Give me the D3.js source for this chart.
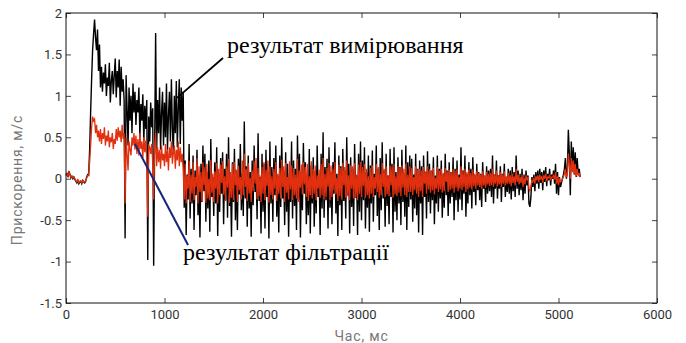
<!DOCTYPE html>
<html>
<head>
<meta charset="utf-8">
<script src="https://cdn.jsdelivr.net/npm/d3@7"></script>
<style>
  body { margin: 0; background: #fff; }
  .tick text { font-family: Roboto, "DejaVu Sans", sans-serif; font-size: 13px; fill: #333; }
  .note { font-family: "Liberation Serif", "Times New Roman", serif; font-size: 24px; fill: #000; }
  .axis-title { font-family: Roboto, sans-serif; font-size: 14px; fill: #777; }
</style>
</head>
<body>
<div id="chart"></div>
<script>
// sampling period of both records, ms
var stepMs = 10;

// measured acceleration (black), one value per 10 ms from 0 ms
var measured = [
  0.04,0.06,0.02,0.09,0.05,0.01,0.03,0.00,0.02,-0.01,
  -0.03,-0.05,-0.02,-0.06,-0.04,-0.03,-0.06,-0.02,-0.04,-0.05,
  -0.03,0.02,0.05,0.04,0.35,0.80,1.20,1.55,1.75,1.92,
  1.70,1.55,1.80,1.30,1.62,1.10,1.35,1.05,1.28,1.15,
  1.38,1.00,1.22,1.12,1.40,0.92,1.18,1.30,1.02,1.25,
  1.45,0.98,1.30,1.10,1.44,0.88,1.35,1.05,1.20,0.95,
  -0.72,1.25,0.85,0.40,1.10,0.70,1.00,0.55,1.15,0.80,
  1.05,0.65,0.95,0.80,1.10,0.50,0.90,0.70,1.02,0.45,
  0.88,0.60,0.95,-0.98,0.75,0.45,0.92,0.62,0.85,-1.05,
  0.40,1.76,0.30,0.95,0.55,1.10,0.35,0.80,1.05,0.40,
  0.92,0.50,1.15,0.35,0.75,1.05,0.45,1.20,0.60,0.30,
  1.00,0.55,1.18,0.38,0.85,1.20,0.42,1.10,0.70,1.05,
  -0.35,0.22,-0.68,0.05,-0.25,0.42,-0.48,0.12,-0.30,0.28,
  -0.62,0.10,-0.20,0.35,-0.44,-0.05,-0.71,0.18,-0.28,0.40,
  -0.15,0.30,-0.52,0.08,-0.36,0.22,-0.64,0.48,-0.22,0.02,
  -0.45,0.20,-0.30,0.38,-0.69,0.05,-0.40,0.25,-0.18,0.32,
  -0.55,0.12,-0.26,0.30,-0.47,0.50,-0.33,-0.02,-0.70,0.20,
  -0.28,0.36,-0.50,0.10,-0.62,0.24,-0.19,0.42,-0.38,0.06,
  -0.45,0.69,-0.24,0.15,-0.58,0.28,-0.36,0.08,-0.70,0.22,
  -0.32,0.40,-0.16,0.12,-0.49,0.55,-0.27,0.02,-0.66,0.30,
  -0.40,0.18,-0.60,0.35,-0.22,0.08,-0.72,0.45,-0.30,0.14,
  -0.52,0.25,-0.20,0.40,-0.46,0.04,-0.65,0.28,-0.34,0.50,
  -0.24,0.10,-0.56,0.32,-0.40,0.18,-0.70,0.06,-0.28,0.45,
  -0.48,0.22,-0.33,0.12,-0.62,0.52,-0.25,0.30,-0.71,0.08,
  -0.38,0.43,-0.18,0.20,-0.55,0.05,-0.44,0.36,-0.66,0.16,
  -0.30,0.26,-0.58,0.10,-0.42,0.40,-0.22,0.02,-0.68,0.30,
  -0.36,0.56,-0.47,0.14,-0.26,0.24,-0.60,0.38,-0.35,0.08,
  -0.55,0.20,-0.18,0.44,-0.42,0.06,-0.69,0.28,-0.32,0.15,
  -0.62,0.36,-0.27,0.10,-0.48,0.50,-0.20,0.18,-0.66,0.26,
  -0.34,0.12,-0.57,0.42,-0.23,0.04,-0.68,0.30,-0.40,0.45,
  -0.50,0.22,-0.26,0.38,-0.60,0.08,-0.35,0.28,-0.64,0.16,
  -0.30,0.34,-0.52,0.06,-0.20,0.40,-0.45,0.12,-0.62,0.25,
  -0.38,0.44,-0.24,0.10,-0.58,0.30,-0.33,0.04,-0.55,0.36,
  -0.22,0.18,-0.65,0.38,-0.40,0.08,-0.50,0.26,-0.30,0.14,
  -0.56,0.35,-0.28,0.06,-0.46,0.40,-0.62,0.20,-0.34,0.28,
  -0.25,0.24,-0.52,0.05,-0.36,0.30,-0.44,0.12,-0.65,0.22,
  -0.30,0.15,-0.68,0.28,-0.22,0.08,-0.48,0.33,-0.28,0.18,
  -0.42,0.10,-0.26,0.26,-0.55,0.04,-0.30,0.28,-0.40,0.12,
  -0.24,0.22,-0.47,0.05,-0.35,0.30,-0.20,0.10,-0.45,0.20,
  -0.30,0.08,-0.22,0.26,-0.50,0.12,-0.26,0.22,-0.40,0.05,
  -0.25,0.38,-0.38,0.10,-0.18,0.28,-0.46,0.06,-0.30,0.20,
  -0.20,0.12,-0.36,0.26,-0.16,0.04,-0.32,0.18,-0.14,0.08,
  -0.26,0.06,-0.34,0.20,-0.12,0.02,-0.28,0.15,-0.18,0.10,
  -0.15,0.12,-0.22,0.28,-0.30,0.05,-0.12,0.22,-0.24,0.04,
  -0.12,0.15,-0.28,0.06,-0.10,0.18,-0.22,0.02,-0.16,0.12,
  -0.18,0.10,-0.25,0.14,-0.15,0.08,-0.22,0.28,-0.12,0.10,
  -0.20,0.06,-0.14,0.12,-0.26,0.05,-0.18,0.10,-0.08,0.04,
  -0.30,-0.34,-0.22,0.02,-0.10,0.05,-0.15,0.08,-0.06,0.10,
  -0.12,0.12,-0.05,0.08,-0.14,0.10,-0.04,0.14,-0.09,0.06,
  -0.02,0.12,-0.08,0.05,0.00,0.10,-0.06,0.18,-0.18,0.08,
  -0.20,0.02,-0.10,-0.05,0.00,0.05,0.12,0.25,0.00,0.10,
  0.59,0.30,-0.20,0.45,0.10,0.38,0.05,0.32,0.02,0.25,
  0.05,0.12,0.02
];

// filtered acceleration (red), same sampling
var filtered = [
  0.04,0.05,0.03,0.08,0.05,0.02,0.03,0.01,0.02,0.00,
  -0.02,-0.04,-0.02,-0.05,-0.03,-0.03,-0.05,-0.02,-0.04,-0.04,
  -0.02,0.01,0.04,0.05,0.20,0.40,0.62,0.75,0.70,0.72,
  0.55,0.65,0.50,0.58,0.45,0.60,0.42,0.55,0.48,0.62,
  0.40,0.52,0.45,0.58,0.38,0.50,0.44,0.55,0.36,0.48,
  0.42,0.60,0.46,0.62,0.50,0.58,0.44,0.65,0.48,0.55,
  -0.30,0.50,0.30,0.10,0.45,0.35,0.28,0.50,0.40,0.55,
  0.35,0.52,0.30,0.48,0.28,0.55,0.36,0.45,0.25,0.50,
  0.32,0.46,0.22,-0.46,0.40,0.38,0.30,0.42,0.20,-0.25,
  0.40,0.55,0.15,0.38,0.20,0.35,0.12,0.40,0.22,0.30,
  0.15,0.42,0.20,0.35,0.10,0.38,0.25,0.45,0.18,0.32,
  0.40,0.12,0.35,0.22,0.45,0.15,0.38,0.20,0.30,0.10,
  -0.25,0.18,-0.30,0.04,-0.12,0.22,-0.28,0.05,-0.18,0.20,
  -0.26,0.02,-0.10,0.25,-0.30,0.15,-0.16,0.08,-0.27,0.20,
  -0.08,0.14,-0.29,0.18,-0.24,0.00,-0.26,0.23,-0.17,0.06,
  -0.28,0.09,-0.12,0.19,-0.30,0.12,-0.20,0.17,-0.05,0.21,
  -0.19,0.03,-0.27,0.15,-0.11,0.24,-0.29,0.08,-0.23,0.18,
  -0.26,0.20,-0.08,0.11,-0.28,0.16,-0.14,0.02,-0.25,0.22,
  -0.20,0.30,-0.10,0.12,-0.27,0.19,-0.18,0.01,-0.28,0.10,
  -0.15,0.21,-0.06,0.25,-0.25,0.13,-0.21,0.04,-0.28,0.14,
  -0.18,0.20,-0.26,0.11,-0.09,0.22,-0.29,0.15,-0.20,0.03,
  -0.25,0.12,-0.12,0.20,-0.27,0.06,-0.18,0.13,-0.24,0.23,
  -0.10,0.15,-0.28,0.19,-0.17,0.02,-0.25,0.21,-0.13,0.16,
  -0.26,0.13,-0.20,0.05,-0.24,0.24,-0.28,0.10,-0.11,0.17,
  -0.19,0.20,-0.07,0.14,-0.22,0.18,-0.27,0.03,-0.20,0.21,
  -0.24,0.12,-0.18,0.16,-0.26,0.04,-0.12,0.11,-0.23,0.18,
  -0.20,0.25,-0.25,0.06,-0.22,0.13,-0.10,0.19,-0.26,0.16,
  -0.22,0.12,-0.14,0.20,-0.19,0.01,-0.27,0.17,-0.21,0.13,
  -0.25,0.19,-0.08,0.14,-0.23,0.22,-0.21,0.04,-0.26,0.16,
  -0.12,0.15,-0.24,0.19,-0.22,0.05,-0.26,0.17,-0.18,0.20,
  -0.22,0.14,-0.09,0.18,-0.23,0.12,-0.20,0.03,-0.24,0.13,
  -0.18,0.16,-0.22,0.02,-0.12,0.18,-0.16,0.14,-0.23,0.06,
  -0.20,0.19,-0.10,0.12,-0.22,0.15,-0.19,0.04,-0.21,0.16,
  -0.08,0.14,-0.23,0.18,-0.19,0.03,-0.21,0.15,-0.17,0.13,
  -0.21,0.16,-0.11,0.12,-0.20,0.18,-0.22,0.05,-0.16,0.15,
  -0.16,0.13,-0.20,0.02,-0.14,0.15,-0.18,0.11,-0.22,0.12,
  -0.15,0.10,-0.22,0.14,-0.06,0.09,-0.18,0.15,-0.13,0.11,
  -0.17,0.09,-0.14,0.13,-0.19,0.01,-0.12,0.14,-0.16,0.10,
  -0.13,0.12,-0.17,0.07,-0.15,0.13,-0.04,0.09,-0.16,0.11,
  -0.14,0.08,-0.12,0.12,-0.17,0.09,-0.11,0.11,-0.15,0.02,
  -0.12,0.15,-0.14,0.10,-0.10,0.12,-0.16,0.08,-0.13,0.11,
  -0.11,0.07,-0.13,0.11,-0.09,0.06,-0.12,0.09,-0.08,0.07,
  -0.10,0.05,-0.12,0.09,-0.08,0.04,-0.11,0.08,-0.07,0.06,
  -0.09,0.07,-0.08,0.12,-0.10,0.05,-0.06,0.10,-0.09,0.04,
  -0.07,0.08,-0.10,0.05,-0.06,0.09,-0.08,0.03,-0.06,0.07,
  -0.06,0.04,-0.09,0.06,-0.05,0.03,-0.08,0.12,-0.04,0.05,
  -0.07,0.02,-0.05,0.05,-0.10,0.01,-0.07,0.04,-0.02,0.02,
  -0.12,-0.15,-0.10,-0.02,-0.04,0.01,-0.06,0.03,-0.02,0.04,
  -0.04,0.05,-0.01,0.03,-0.05,0.04,0.00,0.06,-0.03,0.02,
  0.01,0.05,-0.02,0.02,0.02,0.04,-0.01,0.08,-0.06,0.03,
  -0.08,-0.01,-0.04,-0.03,0.00,0.02,0.06,0.12,0.02,0.05,
  0.30,0.18,0.00,0.25,0.08,0.22,0.05,0.18,0.03,0.12,
  0.04,0.06,0.02
];

var xTicks = [0, 1000, 2000, 3000, 4000, 5000, 6000];
var yTicks = [-1.5, -1, -0.5, 0, 0.5, 1, 1.5, 2];

var xTitle = "Час, мс";
var yTitle = "Прискорення, м/с";

// callouts: text anchor and leader line, in data units (ms, m/s)
var noteMeasured = { text: "результат вимірювання", at: [1635, 1.52], from: [1127, 0.975], to: [1594, 1.457] };
var noteFiltered = { text: "результат фільтрації", at: [1188, -0.98], from: [700, 0.42], to: [1239, -0.80] };

var margin = {top: 13, right: 29, bottom: 40, left: 66},
    width = 686 - margin.left - margin.right,
    height = 343 - margin.top - margin.bottom;

var svg = d3.select("#chart").append("svg")
    .attr("width", 686)
    .attr("height", 343)
  .append("g")
    .attr("transform", "translate(" + margin.left + "," + margin.top + ")");

var x = d3.scaleLinear().domain([0, 6000]).range([0, width]);
var y = d3.scaleLinear().domain([-1.5, 2]).range([height, 0]);

var line = d3.line()
  .x((d, i) => x(i * stepMs))
  .y(d => y(d));

svg.append("path")
  .datum(measured)
  .attr("fill", "none")
  .attr("stroke", "#000")
  .attr("stroke-width", 1.4)
  .attr("d", line);

svg.append("path")
  .datum(filtered)
  .attr("fill", "none")
  .attr("stroke", "#e0300f")
  .attr("stroke-width", 1.3)
  .attr("d", line);

// axes, MATLAB style: ticks inward on all four sides
var tickLen = 5;
var plain = d => String(d);
svg.append("g")
  .attr("transform", "translate(0," + height + ")")
  .call(d3.axisBottom(x).tickValues(xTicks).tickFormat(plain).tickSizeInner(-tickLen).tickSizeOuter(0).tickPadding(7))
  .call(g => g.select(".domain").remove());
svg.append("g")
  .call(d3.axisTop(x).tickValues(xTicks).tickSizeInner(-tickLen).tickSizeOuter(0).tickFormat(""))
  .call(g => g.select(".domain").remove());
svg.append("g")
  .call(d3.axisLeft(y).tickValues(yTicks).tickFormat(plain).tickSizeInner(-tickLen).tickSizeOuter(0).tickPadding(4))
  .call(g => g.select(".domain").remove());
svg.append("g")
  .attr("transform", "translate(" + width + ",0)")
  .call(d3.axisRight(y).tickValues(yTicks).tickSizeInner(-tickLen).tickSizeOuter(0).tickFormat(""))
  .call(g => g.select(".domain").remove());

svg.selectAll(".tick line").attr("stroke", "#444");

svg.append("rect")
  .attr("width", width)
  .attr("height", height)
  .attr("fill", "none")
  .attr("stroke", "#111")
  .attr("stroke-width", 1);

svg.append("text")
  .attr("class", "axis-title")
  .attr("x", width / 2)
  .attr("y", height + 38)
  .attr("text-anchor", "middle")
  .attr("letter-spacing", "0.8px")
  .attr("font-size", "15px")
  .text(xTitle);

svg.append("text")
  .attr("class", "axis-title")
  .attr("transform", "translate(-44," + (height / 2 + 22) + ") rotate(-90)")
  .attr("text-anchor", "middle")
  .attr("letter-spacing", "0.8px")
  .text(yTitle);

// callouts
svg.append("line")
  .attr("x1", x(noteMeasured.from[0])).attr("y1", y(noteMeasured.from[1]))
  .attr("x2", x(noteMeasured.to[0])).attr("y2", y(noteMeasured.to[1]))
  .attr("stroke", "#000").attr("stroke-width", 1.8);
svg.append("text")
  .attr("class", "note")
  .attr("x", x(noteMeasured.at[0]))
  .attr("y", y(noteMeasured.at[1]))
  .text(noteMeasured.text);

svg.append("line")
  .attr("x1", x(noteFiltered.from[0])).attr("y1", y(noteFiltered.from[1]))
  .attr("x2", x(noteFiltered.to[0])).attr("y2", y(noteFiltered.to[1]))
  .attr("stroke", "#14287a").attr("stroke-width", 2);
svg.append("text")
  .attr("class", "note")
  .attr("x", x(noteFiltered.at[0]))
  .attr("y", y(noteFiltered.at[1]))
  .text(noteFiltered.text);
</script>
</body>
</html>
